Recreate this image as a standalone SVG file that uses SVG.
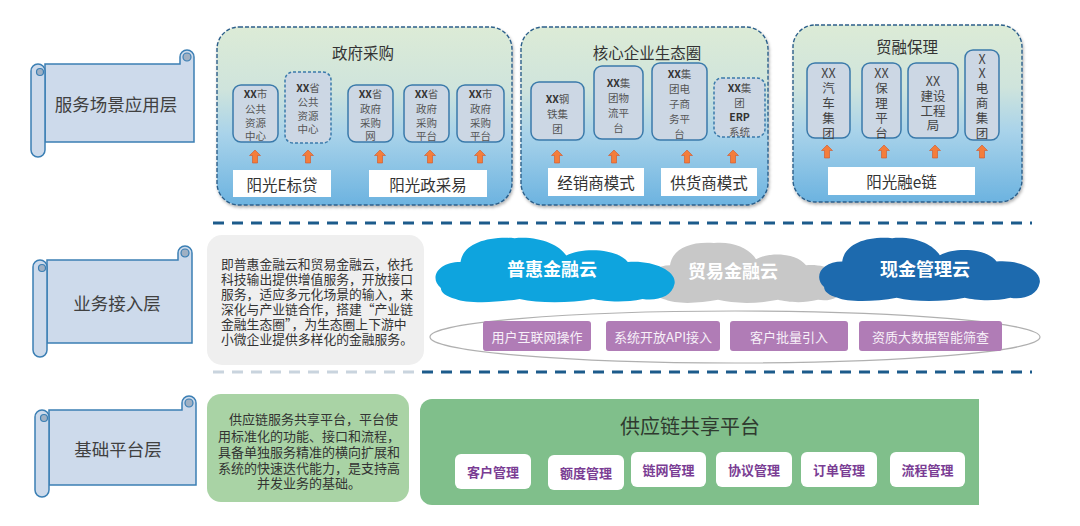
<svg xmlns="http://www.w3.org/2000/svg" xmlns:xlink="http://www.w3.org/1999/xlink" width="1080" height="526" viewBox="0 0 1080 526">
<defs>
<linearGradient id="panelGrad" x1="0" y1="0" x2="0" y2="1">
<stop offset="0" stop-color="#dcebd6"/>
<stop offset="0.35" stop-color="#cfe4dc"/>
<stop offset="0.6" stop-color="#a9d3ea"/>
<stop offset="1" stop-color="#6cb3e0"/>
</linearGradient>
<filter id="shadow" x="-5%" y="-5%" width="112%" height="115%">
<feDropShadow dx="1" dy="2" stdDeviation="1.5" flood-color="#000" flood-opacity="0.3"/>
</filter>
<path id="arrowUp" d="M0,0 L5.5,5.5 L2.5,5.5 L2.5,13 L-2.5,13 L-2.5,5.5 L-5.5,5.5 Z"/>
<path id="cloud" d="M4,24 C-1,19 3,12 12,12 C13,4 22,0 34,1 C44,0 52,4 55,9 C62,5 76,6 80,12 C90,11 100,16 99,22 C98,28 92,30 86,29 C78,31 70,30 66,29 C56,31 44,31 36,29 C26,31 14,31 10,29 C6,28 4,26 4,24 Z"/>
</defs>
<style>
text { font-family: 'Noto Sans CJK SC', 'Liberation Sans', sans-serif; }
.panel { fill: url(#panelGrad); stroke: #2c5f8a; stroke-width: 1.4; stroke-dasharray: 4 2; filter: url(#shadow); }
.ibox { fill: #ccd7e4; stroke: #3a7aaa; stroke-width: 1.5; }
.dash { stroke-dasharray: 3 2; }
.itxt { font-size: 10.5px; fill: #555; text-anchor: middle; dominant-baseline: central; }
.itxt3 { font-size: 12.5px; fill: #444; text-anchor: middle; dominant-baseline: central; }
.xx { font-weight: bold; fill: #333; }
.wbox { fill: #fff; }
.wtxt { font-size: 15.5px; fill: #333; text-anchor: middle; dominant-baseline: central; }
.ttl { font-size: 15.5px; fill: #333; text-anchor: middle; dominant-baseline: central; }
.arrow { fill: #f47d3b; stroke: #d0562a; stroke-width: 0.6; }
.scroll { fill: #cddaeb; stroke: #3b7fb4; stroke-width: 1.5; }
.curl { fill: #9fb0c3; stroke: #3b7fb4; stroke-width: 1.2; }
.stxt { font-size: 17.5px; fill: #404040; text-anchor: middle; dominant-baseline: central; }
.sep { stroke: #1c5b8b; stroke-width: 3; stroke-dasharray: 11 8; fill: none; }
.sepf { stroke: #c9d4de; stroke-width: 3; stroke-dasharray: 11 8; fill: none; }
.pill { fill: #b07cb6; }
.ptxt { font-size: 13px; fill: #f7f0f8; text-anchor: middle; dominant-baseline: central; }
.ctxt { font-size: 18px; font-weight: bold; fill: #fff; text-anchor: middle; dominant-baseline: central; }
.mtxt { font-size: 12.8px; fill: #333; dominant-baseline: central; }
.gtxt { font-size: 13px; fill: #333; dominant-baseline: central; }
.btn { fill: #fff; }
.btxt { font-size: 13px; font-weight: bold; fill: #7a3d94; text-anchor: middle; dominant-baseline: central; }
</style>
<rect width="1080" height="526" fill="#ffffff"/>

<!-- Layer scrolls -->
<g id="scroll-service">
<path class="scroll" d="M45,64 H180 V57 A7 7 0 0 1 194,57 V142 H45 Z"/>
<circle class="curl" cx="187" cy="57" r="4"/>
<rect class="scroll" x="31" y="64" width="14" height="93" rx="7"/>
<circle class="curl" cx="40" cy="72" r="3.5"/>
<text class="stxt" x="116" y="103">服务场景应用层</text>
</g>
<g id="scroll-access">
<path class="scroll" d="M47,260 H178 V253 A7 7 0 0 1 192,253 V343 H47 Z"/>
<circle class="curl" cx="185" cy="253" r="4"/>
<rect class="scroll" x="33" y="260" width="14" height="97" rx="7"/>
<circle class="curl" cx="42" cy="268" r="3.5"/>
<text class="stxt" x="117" y="302">业务接入层</text>
</g>
<g id="scroll-base">
<path class="scroll" d="M49,410 H182 V403 A7 7 0 0 1 196,403 V485 H49 Z"/>
<circle class="curl" cx="189" cy="403" r="4"/>
<rect class="scroll" x="35" y="410" width="14" height="87" rx="7"/>
<circle class="curl" cx="44" cy="418" r="3.5"/>
<text class="stxt" x="118" y="448">基础平台层</text>
</g>

<!-- Separators -->
<g id="separators">
<line class="sep" x1="213" y1="223" x2="1032" y2="223"/>
<line class="sepf" x1="213" y1="372" x2="422" y2="372"/>
<line class="sep" x1="422" y1="372" x2="1032" y2="372"/>
</g>

<!-- Panel 1: 政府采购 -->
<g id="panel-gov">
<rect class="panel" x="217" y="27" width="295" height="178" rx="22"/>
<text class="ttl" x="363" y="52">政府采购</text>
<g id="gov-1">
<rect class="ibox" x="233" y="85" width="45" height="57" rx="8"/>
<text class="itxt" x="255.5" y="93"><tspan class="xx">XX</tspan>市</text>
<text class="itxt" x="255.5" y="108">公共</text>
<text class="itxt" x="255.5" y="122">资源</text>
<text class="itxt" x="255.5" y="135">中心</text>
</g>
<g id="gov-2">
<rect class="ibox dash" x="285" y="72" width="46" height="71" rx="8"/>
<text class="itxt" x="308" y="87"><tspan class="xx">XX</tspan>省</text>
<text class="itxt" x="308" y="101">公共</text>
<text class="itxt" x="308" y="115">资源</text>
<text class="itxt" x="308" y="128">中心</text>
</g>
<g id="gov-3">
<rect class="ibox" x="348" y="85" width="45" height="57" rx="8"/>
<text class="itxt" x="370.5" y="93"><tspan class="xx">XX</tspan>省</text>
<text class="itxt" x="370.5" y="108">政府</text>
<text class="itxt" x="370.5" y="122">采购</text>
<text class="itxt" x="370.5" y="135">网</text>
</g>
<g id="gov-4">
<rect class="ibox" x="404" y="85" width="45" height="57" rx="8"/>
<text class="itxt" x="426.5" y="93"><tspan class="xx">XX</tspan>省</text>
<text class="itxt" x="426.5" y="108">政府</text>
<text class="itxt" x="426.5" y="122">采购</text>
<text class="itxt" x="426.5" y="135">平台</text>
</g>
<g id="gov-5">
<rect class="ibox" x="457" y="85" width="47" height="57" rx="8"/>
<text class="itxt" x="480.5" y="93"><tspan class="xx">XX</tspan>市</text>
<text class="itxt" x="480.5" y="108">政府</text>
<text class="itxt" x="480.5" y="122">采购</text>
<text class="itxt" x="480.5" y="135">平台</text>
</g>
<g id="gov-e">
<rect class="wbox" x="233" y="170" width="98" height="27"/>
<text class="wtxt" x="282" y="183.5">阳光E标贷</text>
</g>
<g id="gov-zcy">
<rect class="wbox" x="369" y="170" width="118" height="27"/>
<text class="wtxt" x="428" y="183.5">阳光政采易</text>
</g>
</g>

<!-- Panel 2: 核心企业生态圈 -->
<g id="panel-core">
<rect class="panel" x="521" y="27" width="247" height="178" rx="22"/>
<text class="ttl" x="647" y="52">核心企业生态圈</text>
<g id="core-1">
<rect class="ibox" x="531" y="82" width="53" height="58" rx="8"/>
<text class="itxt" x="557.5" y="98"><tspan class="xx">XX</tspan>钢</text>
<text class="itxt" x="557.5" y="113">铁集</text>
<text class="itxt" x="557.5" y="128">团</text>
</g>
<g id="core-2">
<rect class="ibox" x="594" y="66" width="49" height="73" rx="8"/>
<text class="itxt" x="618.5" y="82"><tspan class="xx">XX</tspan>集</text>
<text class="itxt" x="618.5" y="97">团物</text>
<text class="itxt" x="618.5" y="112">流平</text>
<text class="itxt" x="618.5" y="127">台</text>
</g>
<g id="core-3">
<rect class="ibox" x="652" y="63" width="55" height="77" rx="8"/>
<text class="itxt" x="679.5" y="73"><tspan class="xx">XX</tspan>集</text>
<text class="itxt" x="679.5" y="88">团电</text>
<text class="itxt" x="679.5" y="103">子商</text>
<text class="itxt" x="679.5" y="118">务平</text>
<text class="itxt" x="679.5" y="133">台</text>
</g>
<g id="core-4">
<rect class="ibox dash" x="714" y="78" width="51" height="59" rx="8"/>
<text class="itxt" x="739.5" y="87"><tspan class="xx">XX</tspan>集</text>
<text class="itxt" x="739.5" y="102">团</text>
<text class="itxt" x="739.5" y="116"><tspan class="xx">ERP</tspan></text>
<text class="itxt" x="739.5" y="131">系统</text>
</g>
<g id="core-dealer">
<rect class="wbox" x="548" y="168" width="96" height="28"/>
<text class="wtxt" x="596" y="182">经销商模式</text>
</g>
<g id="core-supplier">
<rect class="wbox" x="661" y="168" width="96" height="28"/>
<text class="wtxt" x="709" y="182">供货商模式</text>
</g>
</g>

<!-- Panel 3: 贸融保理 -->
<g id="panel-factoring">
<rect class="panel" x="793" y="25" width="229" height="177" rx="22"/>
<text class="ttl" x="907" y="46">贸融保理</text>
<g id="fac-1">
<rect class="ibox" x="807" y="63" width="43" height="75" rx="8"/>
<text class="itxt3" x="828.5" y="72">XX</text>
<text class="itxt3" x="828.5" y="87">汽</text>
<text class="itxt3" x="828.5" y="102">车</text>
<text class="itxt3" x="828.5" y="117">集</text>
<text class="itxt3" x="828.5" y="132">团</text>
</g>
<g id="fac-2">
<rect class="ibox" x="862" y="63" width="39" height="75" rx="8"/>
<text class="itxt3" x="881.5" y="72">XX</text>
<text class="itxt3" x="881.5" y="87">保</text>
<text class="itxt3" x="881.5" y="102">理</text>
<text class="itxt3" x="881.5" y="117">平</text>
<text class="itxt3" x="881.5" y="132">台</text>
</g>
<g id="fac-3">
<rect class="ibox" x="908" y="63" width="50" height="75" rx="8"/>
<text class="itxt3" x="933" y="80">XX</text>
<text class="itxt3" x="933" y="95">建设</text>
<text class="itxt3" x="933" y="110">工程</text>
<text class="itxt3" x="933" y="124">局</text>
</g>
<g id="fac-4">
<rect class="ibox" x="965" y="50" width="34" height="90" rx="8"/>
<text class="itxt3" x="982" y="58">X</text>
<text class="itxt3" x="982" y="72">X</text>
<text class="itxt3" x="982" y="87">电</text>
<text class="itxt3" x="982" y="102">商</text>
<text class="itxt3" x="982" y="117">集</text>
<text class="itxt3" x="982" y="132">团</text>
</g>
<g id="fac-echain">
<rect class="wbox" x="828" y="167" width="147" height="28"/>
<text class="wtxt" x="901.5" y="181">阳光融e链</text>
</g>
</g>

<!-- Connectors (up arrows) -->
<g id="connectors">
<use class="arrow" xlink:href="#arrowUp" href="#arrowUp" x="255" y="150"/>
<use class="arrow" xlink:href="#arrowUp" href="#arrowUp" x="308" y="150"/>
<use class="arrow" xlink:href="#arrowUp" href="#arrowUp" x="380" y="150"/>
<use class="arrow" xlink:href="#arrowUp" href="#arrowUp" x="430" y="150"/>
<use class="arrow" xlink:href="#arrowUp" href="#arrowUp" x="480" y="150"/>
<use class="arrow" xlink:href="#arrowUp" href="#arrowUp" x="557" y="150"/>
<use class="arrow" xlink:href="#arrowUp" href="#arrowUp" x="614" y="150"/>
<use class="arrow" xlink:href="#arrowUp" href="#arrowUp" x="687" y="150"/>
<use class="arrow" xlink:href="#arrowUp" href="#arrowUp" x="733" y="150"/>
<use class="arrow" xlink:href="#arrowUp" href="#arrowUp" x="827" y="145"/>
<use class="arrow" xlink:href="#arrowUp" href="#arrowUp" x="884" y="145"/>
<use class="arrow" xlink:href="#arrowUp" href="#arrowUp" x="935" y="145"/>
<use class="arrow" xlink:href="#arrowUp" href="#arrowUp" x="982" y="145"/>
</g>

<!-- Business access layer -->
<g id="access-desc">
<rect x="207" y="235" width="217" height="130" rx="15" fill="#efefef"/>
<text class="mtxt" x="221" y="263">即普惠金融云和贸易金融云，依托</text>
<text class="mtxt" x="221" y="278">科技输出提供增值服务，开放接口</text>
<text class="mtxt" x="221" y="293">服务，适应多元化场景的输入，来</text>
<text class="mtxt" x="221" y="308">深化与产业链合作，搭建“产业链</text>
<text class="mtxt" x="221" y="323">金融生态圈”，为生态圈上下游中</text>
<text class="mtxt" x="221" y="338">小微企业提供多样化的金融服务。</text>
</g>
<g id="cloud-trade">
<use xlink:href="#cloud" href="#cloud" fill="#c8c8c8" transform="translate(646,241) scale(2.0,2.03)"/>
</g>
<g id="cloud-inclusive">
<use xlink:href="#cloud" href="#cloud" fill="#0ea4de" transform="translate(431,236) scale(2.46,2.17)"/>
<text class="ctxt" x="552" y="268">普惠金融云</text>
</g>
<g id="cloud-cash">
<use xlink:href="#cloud" href="#cloud" fill="#1d6aae" transform="translate(815,236) scale(2.27,2.13)"/>
<text class="ctxt" x="925" y="268">现金管理云</text>
</g>
<text class="ctxt" x="733" y="270">贸易金融云</text>
<g id="access-channels">
<ellipse cx="735" cy="337" rx="305" ry="26" fill="#fff" stroke="#b0b0b0" stroke-width="1.2"/>
<g id="ch-1"><rect class="pill" x="483" y="321" width="108" height="30" rx="3"/><text class="ptxt" x="537" y="336">用户互联网操作</text></g>
<g id="ch-2"><rect class="pill" x="606" y="321" width="114" height="30" rx="3"/><text class="ptxt" x="663" y="336">系统开放API接入</text></g>
<g id="ch-3"><rect class="pill" x="730" y="321" width="118" height="30" rx="3"/><text class="ptxt" x="789" y="336">客户批量引入</text></g>
<g id="ch-4"><rect class="pill" x="859" y="321" width="143" height="30" rx="3"/><text class="ptxt" x="930.5" y="336">资质大数据智能筛查</text></g>
</g>

<!-- Base platform layer -->
<g id="base-desc">
<rect x="207" y="394" width="202" height="108" rx="14" fill="#a9d3a5"/>
<text class="gtxt" x="229" y="418">供应链服务共享平台，平台使</text>
<text class="gtxt" x="218" y="435">用标准化的功能、接口和流程，</text>
<text class="gtxt" x="218" y="451">具备单独服务精准的横向扩展和</text>
<text class="gtxt" x="218" y="467">系统的快速迭代能力，是支持高</text>
<text class="gtxt" x="257" y="482">并发业务的基础。</text>
</g>
<g id="base-platform">
<path d="M432,399 H979 V505 H432 A12 12 0 0 1 420,493 V411 A12 12 0 0 1 432,399 Z" fill="#80bf8b"/>
<text x="690" y="425" font-size="20" fill="#2f3a2f" text-anchor="middle" dominant-baseline="central">供应链共享平台</text>
<g id="m-1"><rect class="btn" x="455" y="454" width="76" height="35" rx="6"/><text class="btxt" x="493" y="471.5">客户管理</text></g>
<g id="m-2"><rect class="btn" x="548" y="455" width="76" height="35" rx="6"/><text class="btxt" x="586" y="472.5">额度管理</text></g>
<g id="m-3"><rect class="btn" x="631" y="452" width="75" height="35" rx="6"/><text class="btxt" x="668.5" y="469.5">链网管理</text></g>
<g id="m-4"><rect class="btn" x="716" y="452" width="76" height="35" rx="6"/><text class="btxt" x="754" y="469.5">协议管理</text></g>
<g id="m-5"><rect class="btn" x="801" y="452" width="76" height="35" rx="6"/><text class="btxt" x="839" y="469.5">订单管理</text></g>
<g id="m-6"><rect class="btn" x="890" y="452" width="75" height="35" rx="6"/><text class="btxt" x="927.5" y="469.5">流程管理</text></g>
</g>
</svg>
